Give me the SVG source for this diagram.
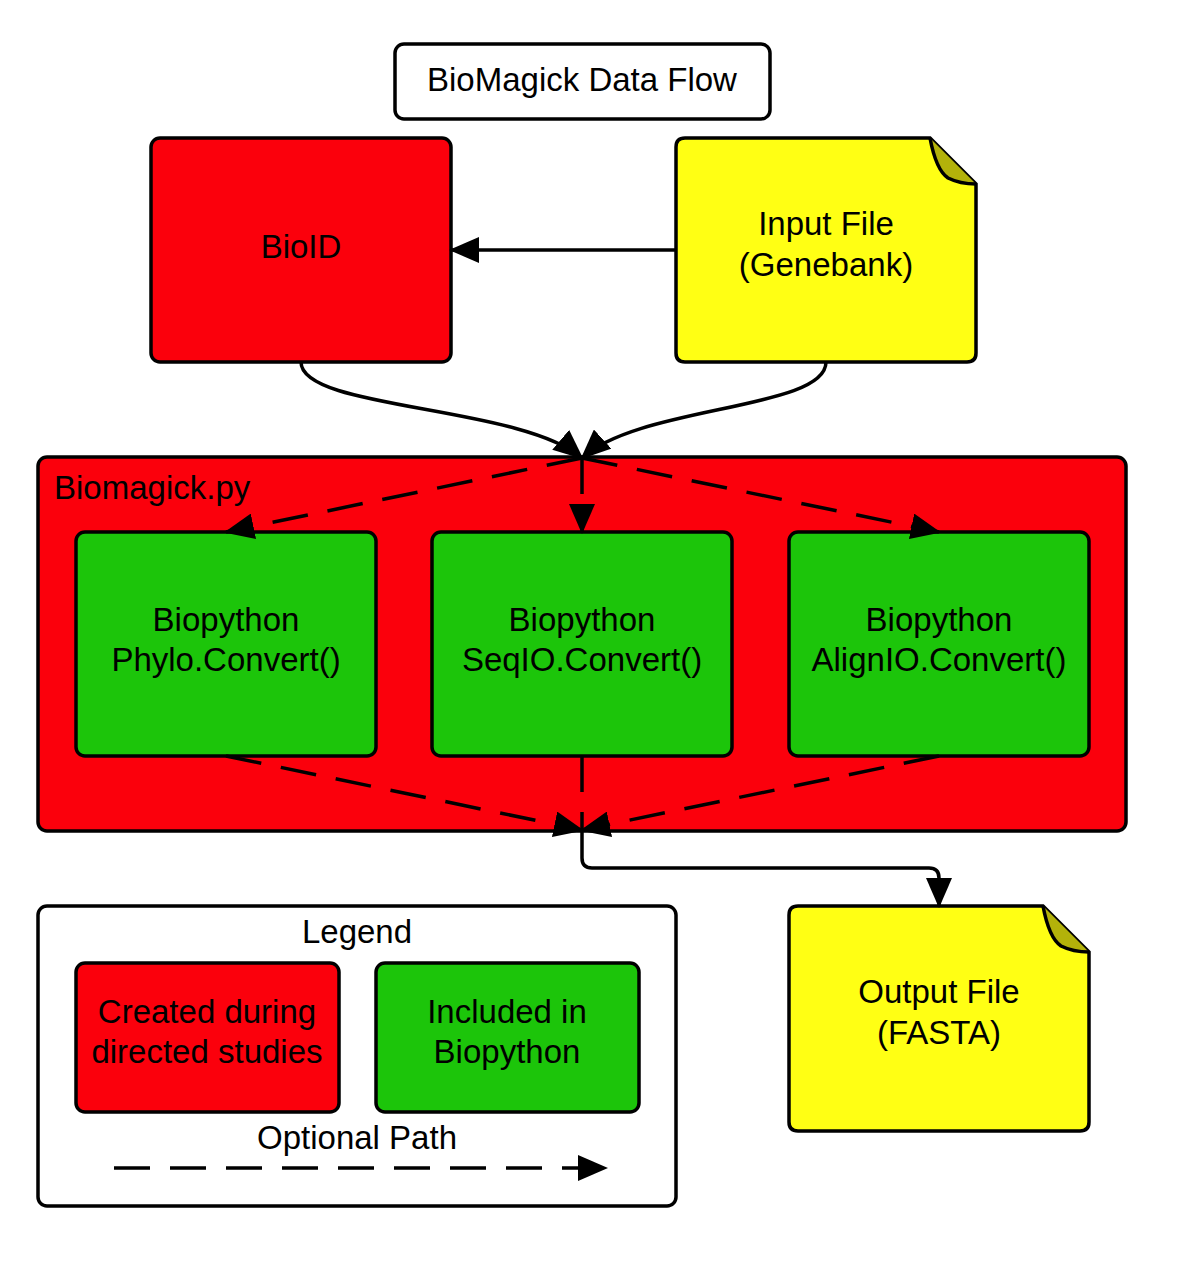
<svg xmlns="http://www.w3.org/2000/svg" width="1181" height="1266" viewBox="0 0 1181 1266">
<style>
.b{stroke:#000;stroke-width:3.5}
.red{fill:#fb000c}
.grn{fill:#1cc50a}
.yel{fill:#ffff14}
.fold{fill:#b3b20a;stroke:#000;stroke-width:3.5;stroke-linejoin:round}
text{font-family:"Liberation Sans",Arial,sans-serif;font-size:33px;fill:#000;text-anchor:middle}
.ln{fill:none;stroke:#000;stroke-width:3.5}
.ds{fill:none;stroke:#000;stroke-width:3.5;stroke-dasharray:36 20}
</style>
<defs>
<marker id="ah" markerWidth="30" markerHeight="26" refX="28" refY="13" orient="auto" markerUnits="userSpaceOnUse">
<path d="M0,0 L30,13 L0,26 Z" fill="#000"/>
</marker>
</defs>
<rect width="1181" height="1266" fill="#fff"/>
<g id="title">
<rect x="395" y="44" width="375" height="75" rx="9" fill="#fff" class="b"/>
<text x="582" y="91">BioMagick Data Flow</text>
</g>
<g id="bioid">
<rect x="151" y="138" width="300" height="224" rx="9" class="red b"/>
<text x="301" y="258">BioID</text>
</g>
<g id="input">
<path d="M685,138 H930 L976,184 V353 Q976,362 967,362 H685 Q676,362 676,353 V147 Q676,138 685,138 Z" class="yel b"/>
<path d="M930,138 Q936,170 948,178 Q960,184 976,184" class="fold"/>
<text x="826" y="235">Input File</text>
<text x="826" y="276">(Genebank)</text>
</g>
<g id="biomagick">
<rect x="38" y="457" width="1088" height="374" rx="9" class="red b"/>
<text x="54" y="499" style="text-anchor:start">Biomagick.py</text>
</g>
<g id="phylo">
<rect x="76" y="532" width="300" height="224" rx="9" class="grn b"/>
<text x="226" y="631">Biopython</text>
<text x="226" y="671">Phylo.Convert()</text>
</g>
<g id="seqio">
<rect x="432" y="532" width="300" height="224" rx="9" class="grn b"/>
<text x="582" y="631">Biopython</text>
<text x="582" y="671">SeqIO.Convert()</text>
</g>
<g id="alignio">
<rect x="789" y="532" width="300" height="224" rx="9" class="grn b"/>
<text x="939" y="631">Biopython</text>
<text x="939" y="671">AlignIO.Convert()</text>
</g>
<g id="output">
<path d="M798,906 H1043 L1089,952 V1122 Q1089,1131 1080,1131 H798 Q789,1131 789,1122 V915 Q789,906 798,906 Z" class="yel b"/>
<path d="M1043,906 Q1049,938 1061,946 Q1073,952 1089,952" class="fold"/>
<text x="939" y="1003">Output File</text>
<text x="939" y="1044">(FASTA)</text>
</g>
<g id="legend">
<rect x="38" y="906" width="638" height="300" rx="9" fill="#fff" class="b"/>
<text x="357" y="943">Legend</text>
<rect x="76" y="963" width="263" height="149" rx="9" class="red b"/>
<text x="207" y="1023">Created during</text>
<text x="207" y="1063">directed studies</text>
<rect x="376" y="963" width="263" height="149" rx="9" class="grn b"/>
<text x="507" y="1023">Included in</text>
<text x="507" y="1063">Biopython</text>
<text x="357" y="1149">Optional Path</text>
<path d="M114,1168 H606" class="ds" marker-end="url(#ah)"/>
</g>
<g id="connectors">
<path d="M676,250 H451" class="ln" marker-end="url(#ah)"/>
<path d="M301,362 C301,410 520,405 582,458" class="ln" marker-end="url(#ah)"/>
<path d="M826,362 C826,410 640,405 582,458" class="ln" marker-end="url(#ah)"/>
<path d="M582,458 L226,532" class="ds" marker-end="url(#ah)"/>
<path d="M582,458 V532" class="ds" marker-end="url(#ah)"/>
<path d="M582,458 L939,532" class="ds" marker-end="url(#ah)"/>
<path d="M226,756 L582,830" class="ds" marker-end="url(#ah)"/>
<path d="M582,756 V830" class="ds"/>
<path d="M939,756 L582,830" class="ds" marker-end="url(#ah)"/>
<path d="M582,830 V858 Q582,868 592,868 H929 Q939,868 939,878 V906" class="ln" marker-end="url(#ah)"/>
</g>
</svg>
